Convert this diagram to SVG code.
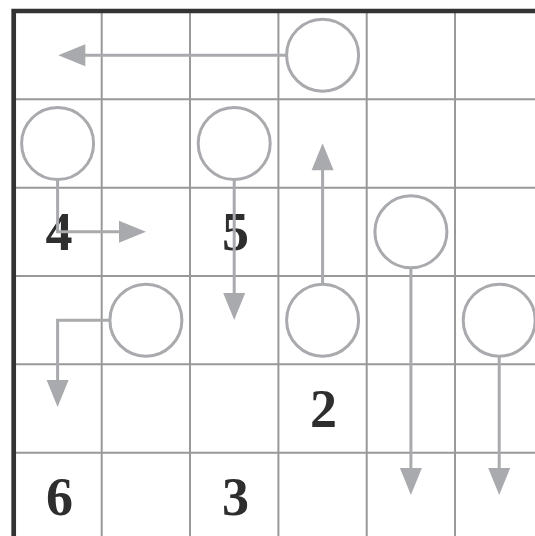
<svg xmlns="http://www.w3.org/2000/svg" width="535" height="536" viewBox="0 0 535 536">
  <style>
    .grid { stroke: #999999; stroke-width: 2; fill: none; }
    .border { stroke: #333333; stroke-width: 4.7; fill: none; stroke-linejoin: miter; }
    .num { font-family: "Liberation Serif", "Times New Roman", serif; font-weight: bold; font-size: 54px; fill: #2e2e2e; text-anchor: middle; }
    .circ { fill: #ffffff; stroke: #a9aaad; stroke-width: 3; }
    .arr { fill: none; stroke: #a9aaad; stroke-width: 3; marker-end: url(#ah); }
  </style>
  <defs>
    <marker id="ah" markerUnits="userSpaceOnUse" markerWidth="27" markerHeight="22" refX="7" refY="11" orient="auto" overflow="visible">
      <path d="M0,0 L27,11 L0,22 Z" fill="#a9aaad"/>
    </marker>
  </defs>
  <rect width="535" height="536" fill="#ffffff"/>
  <g id="grid">
    <path class="grid" d="M101.7 11 V536 M190 11 V536 M278.4 11 V536 M366.7 11 V536 M455 11 V536"/>
    <path class="grid" d="M13.4 99.3 H535 M13.4 187.7 H535 M13.4 276 H535 M13.4 364.3 H535 M13.4 452.7 H535"/>
    <path class="border" d="M13.7 536 V11 H535"/>
  </g>
  <g id="numbers">
    <text id="n4" class="num" x="59" y="250">4</text>
    <text id="n5" class="num" x="235.4" y="250">5</text>
    <text id="n2" class="num" x="323.6" y="426.7">2</text>
    <text id="n6" class="num" x="59.5" y="515">6</text>
    <text id="n3" class="num" x="235.6" y="515">3</text>
  </g>
  <g id="c-r0c3"><circle class="circ" cx="322.6" cy="55.2" r="36"/></g>
  <g id="c-r1c0"><circle class="circ" cx="57.6" cy="143.5" r="36"/></g>
  <g id="c-r1c2"><circle class="circ" cx="234.2" cy="143.5" r="36"/></g>
  <g id="c-r2c4"><circle class="circ" cx="410.9" cy="231.8" r="36"/></g>
  <g id="c-r3c1"><circle class="circ" cx="145.9" cy="320.2" r="36"/></g>
  <g id="c-r3c3"><circle class="circ" cx="322.6" cy="320.2" r="36"/></g>
  <g id="c-r3c5"><circle class="circ" cx="499.2" cy="320.2" r="36"/></g>
  <g id="connectors">
    <path class="arr" d="M286.6 55.2 H78.3"/>
    <path class="arr" d="M57.6 179.5 V231.8 H126"/>
    <path class="arr" d="M234.2 179.5 V300"/>
    <path class="arr" d="M322.6 284.2 V163.3"/>
    <path class="arr" d="M410.9 267.8 V475"/>
    <path class="arr" d="M499.2 356.2 V475"/>
    <path class="arr" d="M109.9 320.2 H57.6 V387"/>
  </g>
</svg>
